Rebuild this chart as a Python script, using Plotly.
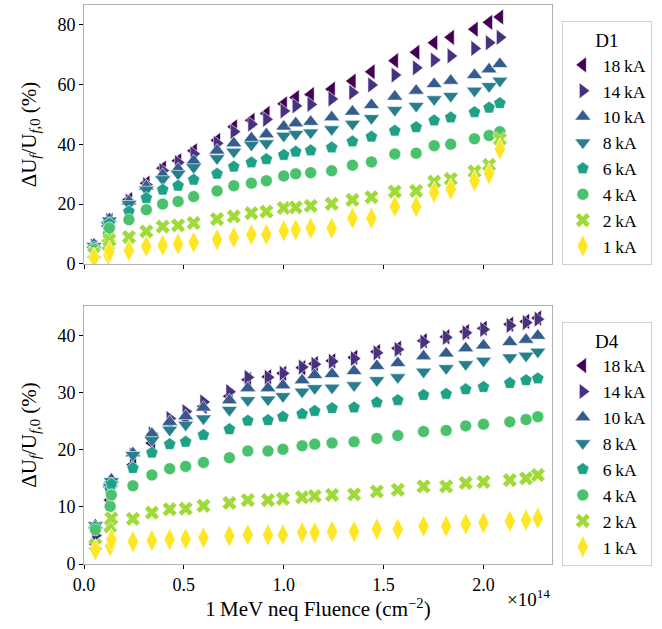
import plotly.graph_objects as go

# Fluence in units of 1e14 1 MeV neq / cm^2
fluence_d1 = [0.050, 0.122, 0.127, 0.225, 0.312, 0.394, 0.471, 0.549, 0.666, 0.750,
              0.838, 0.913, 1.000, 1.060, 1.135, 1.240, 1.344, 1.439, 1.556, 1.663,
              1.753, 1.836, 1.955, 2.028, 2.082]
fluence_d4 = [0.057, 0.131, 0.137, 0.245, 0.340, 0.429, 0.509, 0.598, 0.728, 0.820,
              0.921, 0.996, 1.092, 1.155, 1.242, 1.352, 1.466, 1.571, 1.700, 1.813,
              1.911, 2.000, 2.132, 2.213, 2.272]

currents = ["18\u2009kA", "14\u2009kA", "10\u2009kA", "8\u2009kA",
            "6\u2009kA", "4\u2009kA", "2\u2009kA", "1\u2009kA"]

# Relative forward-voltage change (%) for diode D1
d1_18kA = [5.5, 12.5, 14.5, 21.5, 27.0, 32.0, 34.5, 37.8, 41.3, 45.8, 48.0, 50.3, 53.5,
           55.6, 56.6, 58.4, 61.1, 64.2, 67.9, 70.7, 73.9, 75.7, 78.4, 80.7, 82.5]
d1_14kA = [6.0, 13.0, 14.5, 21.0, 26.5, 31.2, 33.9, 36.8, 40.3, 44.2, 46.7, 48.3, 51.1,
           52.8, 53.3, 55.1, 57.3, 59.8, 63.1, 65.5, 68.1, 69.5, 72.0, 73.9, 75.7]
d1_10kA = [6.5, 13.5, 15.0, 20.9, 25.9, 29.8, 31.7, 34.4, 37.9, 40.3, 42.0, 43.3, 45.9,
           47.0, 47.5, 49.0, 50.9, 53.1, 55.9, 57.9, 60.1, 61.2, 63.1, 65.0, 66.8]
d1_8kA = [6.0, 13.0, 14.5, 20.0, 24.8, 28.3, 30.1, 32.3, 35.3, 37.5, 39.8, 40.3, 42.8,
          43.4, 43.9, 45.0, 46.8, 48.7, 51.4, 52.8, 55.0, 56.1, 57.9, 59.4, 61.2]
d1_6kA = [5.5, 11.5, 13.5, 17.5, 22.0, 24.8, 26.1, 28.1, 30.1, 32.5, 33.9, 35.0, 36.4,
          37.5, 37.9, 38.9, 40.9, 42.5, 44.5, 45.7, 47.9, 48.9, 50.7, 52.2, 53.7]
d1_4kA = [4.8, 10.0, 12.0, 14.8, 18.1, 20.0, 20.9, 22.5, 24.4, 26.1, 27.0, 27.8, 29.4,
          30.1, 30.5, 31.1, 33.0, 34.1, 36.7, 37.0, 39.5, 40.0, 41.8, 42.9, 44.2]
d1_2kA = [3.5, 6.5, 8.0, 9.0, 10.9, 12.5, 12.9, 13.7, 15.0, 15.9, 17.0, 17.5, 18.7,
          18.9, 19.4, 20.1, 21.4, 22.3, 24.2, 24.4, 27.5, 28.4, 30.9, 33.1, 41.7]
d1_1kA = [2.0, 3.0, 4.2, 4.5, 5.9, 6.2, 6.7, 7.2, 8.1, 8.9, 9.8, 9.8, 11.1,
          11.4, 11.9, 11.9, 15.3, 15.3, 19.2, 19.2, 23.9, 25.0, 27.8, 30.1, 38.4]

# Relative forward-voltage change (%) for diode D4
d4_18kA = [3.5, 11.2, 13.0, 17.4, 21.2, 24.4, 25.5, 27.6, 29.4, 32.3, 32.8, 33.4, 34.4,
           35.1, 35.6, 36.2, 37.2, 37.8, 39.1, 39.8, 40.7, 41.3, 42.0, 42.5, 43.1]
d4_14kA = [5.0, 12.5, 13.8, 19.1, 22.8, 25.5, 26.7, 28.4, 30.2, 32.7, 32.7, 33.4, 34.5,
           35.0, 35.5, 36.0, 37.0, 37.6, 38.9, 39.7, 40.5, 41.1, 41.8, 42.3, 42.9]
d4_10kA = [6.8, 14.0, 14.8, 19.4, 22.8, 24.9, 25.9, 27.4, 28.7, 30.8, 30.8, 31.3, 32.2,
           33.1, 33.3, 33.8, 34.7, 35.2, 36.4, 36.9, 37.8, 38.3, 38.9, 39.3, 40.0]
d4_8kA = [6.8, 13.5, 14.5, 19.1, 21.7, 23.5, 24.4, 25.5, 27.0, 28.7, 28.8, 29.4, 30.2,
          30.8, 30.9, 31.3, 32.2, 32.7, 33.7, 34.3, 35.0, 35.6, 36.2, 36.5, 37.2]
d4_6kA = [6.5, 13.0, 14.0, 16.8, 19.5, 21.0, 21.4, 22.6, 23.6, 25.1, 25.2, 25.8, 26.3,
          26.8, 27.3, 27.4, 28.3, 28.7, 29.6, 29.8, 30.6, 31.0, 31.7, 32.2, 32.5]
d4_4kA = [6.0, 10.1, 12.1, 13.7, 15.6, 16.7, 17.1, 17.8, 18.6, 19.8, 19.8, 20.1, 20.7,
          21.0, 21.2, 21.4, 22.0, 22.5, 23.2, 23.4, 24.2, 24.5, 24.9, 25.3, 25.8]
d4_2kA = [3.3, 6.6, 8.0, 7.9, 9.0, 9.6, 9.7, 10.2, 10.7, 11.2, 11.2, 11.4, 11.7,
          11.9, 12.1, 12.2, 12.7, 13.0, 13.6, 13.6, 14.2, 14.4, 14.7, 15.0, 15.6]
d4_1kA = [2.5, 3.2, 4.3, 3.9, 4.1, 4.3, 4.4, 4.6, 4.9, 5.1, 5.1, 5.1, 5.5,
          5.5, 5.7, 5.7, 6.1, 6.1, 6.6, 6.6, 7.0, 7.2, 7.5, 7.7, 8.0]

d1_series = [d1_18kA, d1_14kA, d1_10kA, d1_8kA, d1_6kA, d1_4kA, d1_2kA, d1_1kA]
d4_series = [d4_18kA, d4_14kA, d4_10kA, d4_8kA, d4_6kA, d4_4kA, d4_2kA, d4_1kA]

colors = ["#440154", "#46327e", "#365c8d", "#277f8e",
          "#1fa187", "#4ac16d", "#a0da39", "#fde725"]
symbols = ["triangle-left", "triangle-right", "triangle-up", "triangle-down",
           "pentagon", "circle", "x", "diamond-tall"]
sizes = [14, 14, 14, 14, 13, 12, 13, 16]

FONT = "Liberation Serif"

fig = go.Figure()

for xs, series, xa, ya, lg in [
        (fluence_d1, d1_series, "x", "y", "legend"),
        (fluence_d4, d4_series, "x2", "y2", "legend2")]:
    for name, vals, col, sym, sz in zip(currents, series, colors, symbols, sizes):
        fig.add_trace(go.Scatter(
            x=xs, y=vals, mode="markers", name=name,
            xaxis=xa, yaxis=ya, legend=lg,
            marker=dict(symbol=sym, size=sz, color=col,
                        line=dict(color="white", width=0.6)),
        ))

axis_common = dict(
    showgrid=False, zeroline=False,
    showline=True, linecolor="#b0b0b0", linewidth=1, mirror=True,
    ticks="outside", ticklen=4, tickcolor="black", tickwidth=1,
    tickfont=dict(family=FONT, size=18, color="black"),
)

ytitle = "\u0394U<sub><i>f</i></sub>/U<sub><i>f</i>,0</sub> (%)"

legend_common = dict(
    xanchor="left", yanchor="top",
    bordercolor="#d0d0d0", borderwidth=1, bgcolor="white",
    font=dict(family=FONT, size=17.6),
    entrywidth=62, entrywidthmode="pixels",
)

fig.update_layout(
    width=662, height=629,
    margin=dict(l=84, r=110, t=5, b=65),
    paper_bgcolor="white", plot_bgcolor="white",
    font=dict(family=FONT, size=18, color="black"),
    xaxis=dict(axis_common, domain=[0, 1], range=[0, 2.343],
               tickvals=[0, 0.5, 1.0, 1.5, 2.0], showticklabels=False,
               anchor="y"),
    yaxis=dict(axis_common, domain=[0.5367, 1], range=[0, 86.5],
               tickvals=[0, 20, 40, 60, 80], anchor="x",
               title=dict(text=ytitle, standoff=15,
                          font=dict(family=FONT, size=21))),
    xaxis2=dict(axis_common, domain=[0, 1], range=[0, 2.343],
                tickvals=[0, 0.5, 1.0, 1.5, 2.0],
                ticktext=["0.0", "0.5", "1.0", "1.5", "2.0"],
                anchor="y2", matches="x",
                title=dict(text="1\u2009MeV neq Fluence (cm<sup>\u22122</sup>)",
                           standoff=4, font=dict(family=FONT, size=21))),
    yaxis2=dict(axis_common, domain=[0, 0.4615], range=[0, 45.2],
                tickvals=[0, 10, 20, 30, 40], anchor="x2",
                title=dict(text=ytitle, standoff=15,
                           font=dict(family=FONT, size=21))),
    legend=dict(legend_common, x=1.021, y=0.971,
                title=dict(text="D1", side="top center",
                           font=dict(family=FONT, size=19))),
    legend2=dict(legend_common, x=1.021, y=0.433,
                 title=dict(text="D4", side="top center",
                            font=dict(family=FONT, size=19))),
    annotations=[dict(
        text="\u00d710<sup>14</sup>", xref="paper", yref="paper",
        x=1.0, y=-0.036, xanchor="right", yanchor="top", showarrow=False,
        font=dict(family=FONT, size=19))],
)

fig.write_html("out.html")
